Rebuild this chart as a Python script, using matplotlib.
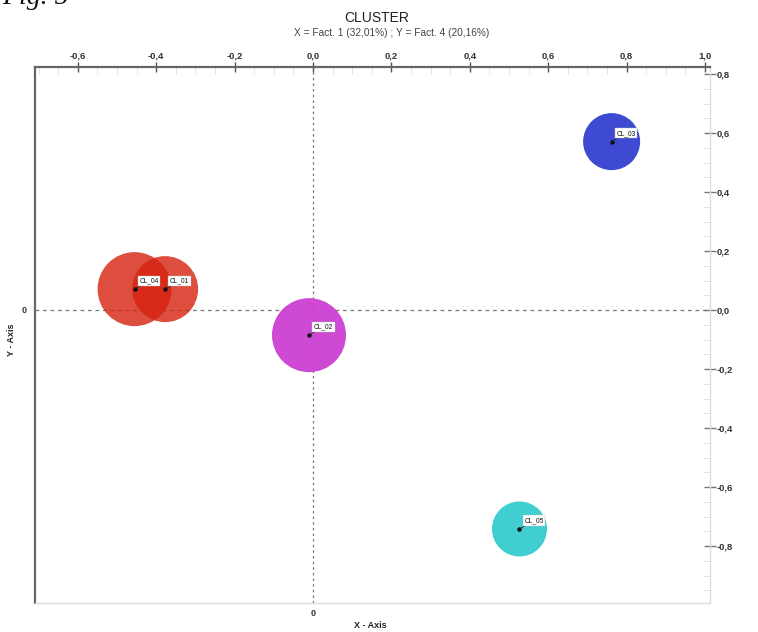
import matplotlib
matplotlib.use("Agg")
import matplotlib.pyplot as plt
from matplotlib.ticker import MultipleLocator, FixedLocator, FuncFormatter

# ---- data ----
clusters = ["CL_04", "CL_01", "CL_02", "CL_03", "CL_05"]
fact1_x = [-0.455, -0.377, -0.010, 0.762, 0.527]
fact4_y = [0.071, 0.071, -0.085, 0.571, -0.742]
bubble_radius_px = [37, 33, 37, 28.5, 27.5]
colors = ["#d6220f", "#d6220f", "#cc3fd2", "#3340cf", "#35ccce"]
alphas = [0.8, 0.8, 0.95, 0.95, 0.95]
x_ticks = [-0.6, -0.4, -0.2, 0.0, 0.2, 0.4, 0.6, 0.8, 1.0]
y_ticks = [0.8, 0.6, 0.4, 0.2, 0.0, -0.2, -0.4, -0.6, -0.8]

DPI = 100
fig = plt.figure(figsize=(7.58, 6.32), dpi=DPI)
plt.rcParams['font.family'] = ['Liberation Sans', 'DejaVu Sans']
ax = fig.add_axes([35/758, 1-603/632, (710-35)/758, (603-67)/632])
ax.set_xlim(-0.709, 1.013)
ax.set_ylim(-0.993, 0.824)

# spines
for s in ["top", "left"]:
    ax.spines[s].set_color("#666666")
    ax.spines[s].set_linewidth(1.6)
for s in ["right", "bottom"]:
    ax.spines[s].set_color("#dddddd")
    ax.spines[s].set_linewidth(1.0)

# reference dashed lines
ax.axhline(0, color="#777777", lw=0.9, ls=(0, (3, 3)), zorder=1)
ax.axvline(0, color="#777777", lw=0.9, ls=(0, (2, 2.5)), zorder=1)

# bubbles
for name, x, y, r, c, a in zip(clusters, fact1_x, fact4_y, bubble_radius_px, colors, alphas):
    d_pt = 2 * r * 72 / DPI
    ax.scatter([x], [y], s=d_pt**2, color=c, alpha=a, edgecolors="none", zorder=2)
    ax.scatter([x], [y], s=5, color="#111111", zorder=4)
    ax.annotate(name, xy=(x, y), xytext=(3.5, 6), textcoords="offset points",
                fontsize=4.8, color="#111111", va="center", ha="left", zorder=5,
                bbox=dict(boxstyle="square,pad=0.25", fc="white", ec="#bbbbbb", lw=0.3),
                arrowprops=dict(arrowstyle="-", color="#222222", lw=0.6,
                                shrinkA=0, shrinkB=0))

# ticks: top x axis
ax.xaxis.set_ticks_position("top")
ax.xaxis.set_label_position("top")
ax.xaxis.set_major_locator(FixedLocator(x_ticks))
ax.xaxis.set_minor_locator(MultipleLocator(0.05))
fmt = FuncFormatter(lambda v, p: ("%.1f" % v).replace(".", ",").replace("-0,0", "0,0"))
ax.xaxis.set_major_formatter(fmt)
ax.tick_params(axis="x", which="major", direction="inout", length=7, width=1.0,
               color="#555555", labelsize=6.8, labelcolor="#333333", pad=1)
ax.tick_params(axis="x", which="minor", direction="in", length=5, width=0.6,
               color="#dddddd")

# ticks: right y axis
ax.yaxis.set_ticks_position("right")
ax.yaxis.set_major_locator(FixedLocator(y_ticks))
ax.yaxis.set_minor_locator(MultipleLocator(0.05))
ax.yaxis.set_major_formatter(fmt)
ax.tick_params(axis="y", which="major", direction="inout", length=8, width=1.0,
               color="#777777", labelsize=6.8, labelcolor="#333333", pad=1)
ax.tick_params(axis="y", which="minor", direction="in", length=5, width=0.6,
               color="#dddddd")
for lab in ax.get_xticklabels() + ax.get_yticklabels():
    lab.set_fontweight("bold")

# left / bottom labels
ax.text(-0.012, 0, "0", transform=ax.get_yaxis_transform(), ha="right", va="center",
        fontsize=6.5, fontweight="bold", color="#333333")
ax.text(0, -0.012, "0", transform=ax.get_xaxis_transform(), ha="center", va="top",
        fontsize=6.5, fontweight="bold", color="#333333")
fig.text(12/758, 1-340/632, "Y - Axis", rotation=90, ha="center", va="center",
         fontsize=6.5, fontweight="bold", color="#222222")
fig.text(370/758, 1-625/632, "X - Axis", ha="center", va="center",
         fontsize=6.5, fontweight="bold", color="#222222")

# titles
fig.text(377/758, 1-18/632, "CLUSTER", ha="center", va="center", fontsize=10, color="#222222")
fig.text(392/758, 1-33/632, "X = Fact. 1 (32,01%) ; Y = Fact. 4 (20,16%)", ha="center",
         va="center", fontsize=7.3, color="#444444")
fig.text(2/758, 1-4/632, "Fig. 5", ha="left", va="baseline", fontsize=20,
         family="Liberation Serif", style="italic", color="#111111")

fig.savefig("out.png", dpi=DPI)
